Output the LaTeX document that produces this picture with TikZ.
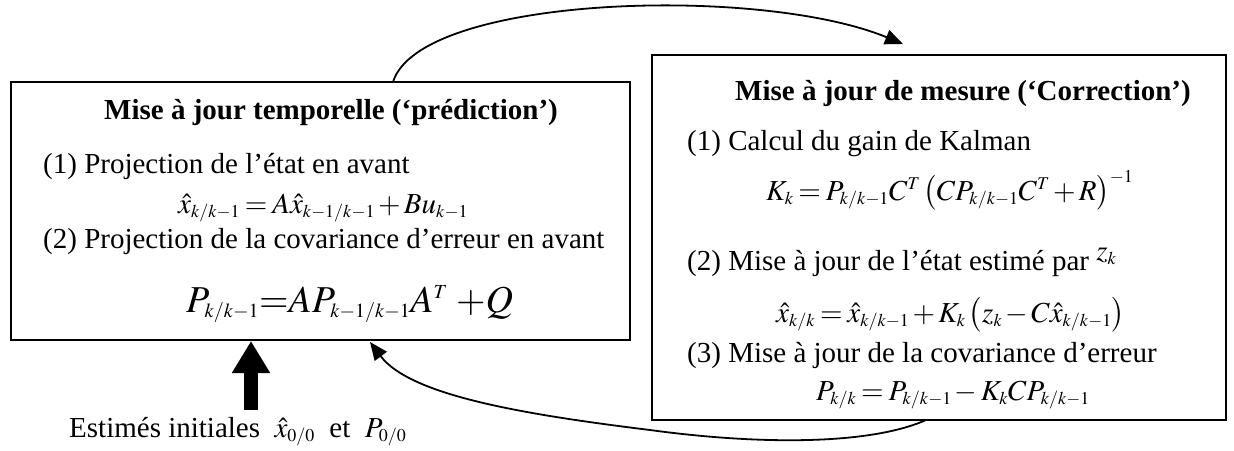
\documentclass[tikz,border=0pt]{standalone}
\usepackage{mathptmx}
\usepackage{fontspec}
\setmainfont{Liberation Serif}
\usetikzlibrary{arrows.meta}
\DeclareMathSizes{29}{29}{18}{13}
\DeclareMathSizes{38}{38}{20}{15}
\newcommand{\tightmath}{\thickmuskip=3mu plus 1mu\medmuskip=2mu plus 1mu}
\newcommand{\tightermath}{\thickmuskip=0.5mu\medmuskip=1mu}
\begin{document}
\begin{tikzpicture}[x=1pt,y=-1pt,
  box/.style={draw, line width=2pt, rectangle, inner sep=0pt},
  txt/.style={inner sep=0pt, anchor=base west, font=\fontsize{29}{34}\selectfont},
  ttl/.style={inner sep=0pt, anchor=base, font=\fontsize{29}{34}\selectfont\bfseries},
  eqn/.style={inner sep=0pt, anchor=base west, font=\fontsize{29}{34}\selectfont\tightmath},
  eqbig/.style={inner sep=0pt, anchor=base west, font=\fontsize{38}{44}\selectfont\tightermath},
  conn/.style={line width=1.8pt, -{Triangle[length=18pt,width=15pt]}},
  thick arrow/.style={line width=14pt, -{Triangle[length=32pt,width=36pt]}}
]
\useasboundingbox (0,0) rectangle (1234,450);

% boxes
\node[box, minimum width=619pt, minimum height=258pt] (L) at (320.5,211) {};
\node[box, minimum width=574pt, minimum height=365pt] (R) at (939,237.5) {};

% left box text
\node[ttl] (lt) at (331,119) {Mise à jour temporelle (‘prédiction’)};
\node[txt] (l1) at (43,173) {(1) Projection de l’état en avant};
\node[eqn] (le1) at (178,213) {$\hat{x}_{k/k-1}=A\hat{x}_{k-1/k-1}+Bu_{k-1}$};
\node[txt] (l2) at (43,248) {(2) Projection de la covariance d’erreur en avant};
\node[eqbig] (le2) at (186,312) {$P_{k/k-1}{=}AP_{k-1/k-1}A^{T}\mkern4mu{+}Q$};

% right box text
\node[ttl] (rt) at (963,100) {Mise à jour de mesure (‘Correction’)};
\node[txt] (r1) at (687,150) {(1) Calcul du gain de Kalman};
\node[eqn] (re1) at (766,200) {$K_{k}=P_{k/k-1}C^{T}\left(CP_{k/k-1}C^{T}+R\right)^{-1}$};
\node[txt] (r2) at (687,270) {(2) Mise à jour de l’état estimé par \raisebox{10pt}{$z_{k}$}};
\node[eqn] (re2) at (776,322) {$\hat{x}_{k/k}=\hat{x}_{k/k-1}+K_{k}\left(z_{k}-C\hat{x}_{k/k-1}\right)$};
\node[txt] (r3) at (687,362) {(3) Mise à jour de la covariance d’erreur};
\node[eqn] (re3) at (816,400) {$P_{k/k}=P_{k/k-1}-K_{k}CP_{k/k-1}$};

% initial estimates
\node[txt] (init) at (69,437) {Estimés initiales\ \ $\hat{x}_{0/0}$\ \ et\ \ $P_{0/0}$};
\coordinate (is) at (251,410);
\draw[thick arrow] (is) -- (is |- L.south);

% connectors
\coordinate (a1) at (393,82);
\coordinate (a2) at (903,44);
\draw[conn] (a1) .. controls (420,-5) and (760,-15) .. (a2);

\coordinate (b1) at (926,420);
\coordinate (b2) at (370,342);
\draw[conn] (b1) .. controls (870,445) and (760,445) .. (650,430)
  .. controls (520,414) and (410,395) .. (b2);
\end{tikzpicture}
\end{document}
